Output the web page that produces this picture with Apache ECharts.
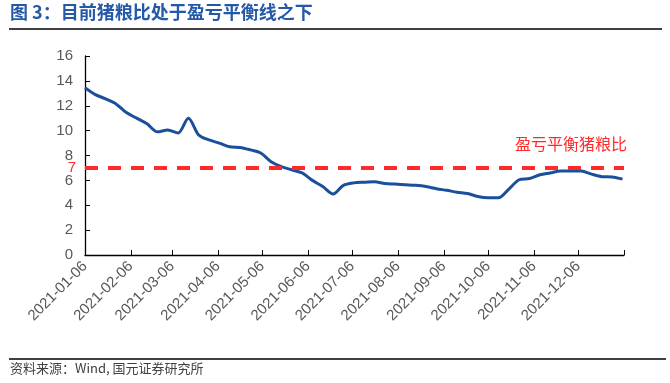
<!DOCTYPE html>
<html>
<head>
<meta charset="utf-8">
<script src="https://cdn.jsdelivr.net/npm/echarts@6/dist/echarts.min.js"></script>
<style>html,body{margin:0;padding:0;background:#fff}#c{width:670px;height:383px}</style>
</head>
<body>
<div id="c"></div>
<script>
var dates = ['2021-01-06','2021-01-13','2021-01-20','2021-01-27','2021-02-03','2021-02-10','2021-02-17','2021-02-24',
'2021-03-03','2021-03-10','2021-03-17','2021-03-24','2021-03-31','2021-04-07','2021-04-14','2021-04-21','2021-04-28',
'2021-05-05','2021-05-12','2021-05-19','2021-05-26','2021-06-02','2021-06-09','2021-06-16','2021-06-23','2021-06-30',
'2021-07-07','2021-07-14','2021-07-21','2021-07-28','2021-08-04','2021-08-11','2021-08-18','2021-08-25',
'2021-09-01','2021-09-08','2021-09-15','2021-09-22','2021-09-29','2021-10-06','2021-10-13','2021-10-20','2021-10-27',
'2021-11-03','2021-11-10','2021-11-17','2021-11-24','2021-12-01','2021-12-08','2021-12-15','2021-12-22','2021-12-29','2022-01-05'];
var ratio = [13.45,12.9,12.55,12.15,11.45,11.0,10.55,9.9,
10.05,9.8,11.0,9.65,9.25,9.0,8.7,8.65,8.45,
8.2,7.5,7.1,6.85,6.6,6.0,5.5,4.9,
5.6,5.8,5.85,5.88,5.75,5.7,5.65,5.6,
5.5,5.33,5.2,5.05,4.95,4.7,4.6,4.6,5.3,
6.05,6.15,6.45,6.6,6.75,6.75,6.75,6.5,6.3,6.28,6.1];
var breakEven = 7;
var axisStart = '2021-01-06', axisEnd = '2022-01-06';
var yTicks = {min: 0, max: 16, interval: 2};

// daily category axis (scaffolding)
var days = [];
(function(){
  var d = new Date(axisStart + 'T00:00:00Z'), e = new Date(axisEnd + 'T00:00:00Z');
  while (d <= e) { days.push(d.toISOString().slice(0,10)); d = new Date(d.getTime() + 86400000); }
})();

var chart = echarts.init(document.getElementById('c'), null, {renderer: 'canvas'});
chart.setOption({
  animation: false,
  backgroundColor: '#fff',
  grid: {left: 85, right: 46, top: 56, bottom: 128},
  xAxis: {
    type: 'category', data: days, boundaryGap: false,
    axisLine: {lineStyle: {color: '#000', width: 1.3}},
    axisTick: {inside: true, length: 5, lineStyle: {color: '#000'},
      interval: function(i, v){ return v.slice(8) === '06'; }},
    axisLabel: {rotate: 45, color: '#595959', fontSize: 15, fontFamily: 'Liberation Sans, Arial', margin: 9,
      interval: function(i, v){ return v.slice(8) === '06' && v.slice(0,4) === '2021'; }},
    splitLine: {show: false}
  },
  yAxis: {
    type: 'value', min: yTicks.min, max: yTicks.max, interval: yTicks.interval,
    axisLine: {show: true, lineStyle: {color: '#000', width: 1.3}},
    axisTick: {show: true, inside: true, length: 5, lineStyle: {color: '#000'}},
    axisLabel: {color: '#595959', fontSize: 15, fontFamily: 'Liberation Sans, Arial', margin: 12},
    splitLine: {show: false}
  },
  series: [{
    type: 'line', data: dates.map(function(d, i){ return [d, ratio[i]]; }),
    smooth: 0.3, showSymbol: false, symbol: 'none',
    lineStyle: {color: '#1a4f9c', width: 3},
    markLine: {
      silent: true, symbol: 'none',
      lineStyle: {color: '#ff2a2a', type: [13, 10], width: 4},
      data: [
        {yAxis: breakEven, label: {show: true, position: 'start', formatter: String(breakEven), color: '#ff2a2a', fontSize: 15, fontFamily: 'Liberation Sans, Arial', distance: 9}},
        {yAxis: breakEven, lineStyle: {color: 'rgba(0,0,0,0)', width: 0}, label: {show: true, position: 'insideEndTop', formatter: '盈亏平衡猪粮比', color: '#ff2a2a', fontSize: 16, fontFamily: 'Noto Sans CJK SC', distance: [-3, 16]}}
      ]
    }
  }],
  graphic: [
    {type: 'text', left: 10, top: 3, style: {text: '图 3：目前猪粮比处于盈亏平衡线之下', fill: '#2459a8', font: 'bold 18px "Noto Sans CJK SC"'}},
    {type: 'line', shape: {x1: 9, y1: 29, x2: 662, y2: 29}, style: {stroke: '#000', lineWidth: 1.5}},
    {type: 'line', shape: {x1: 9, y1: 359, x2: 666, y2: 359}, style: {stroke: '#000', lineWidth: 1.5}},
    {type: 'text', left: 10, top: 362, style: {text: '资料来源：Wind, 国元证券研究所', fill: '#404040', font: '13px "Noto Sans CJK SC"'}}
  ]
});
</script>
</body>
</html>
